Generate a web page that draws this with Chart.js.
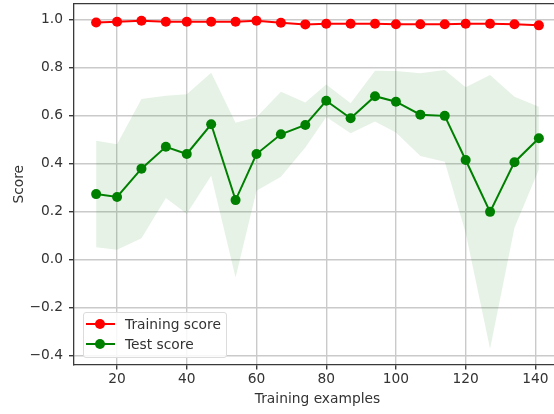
<!DOCTYPE html>
<html>
<head>
<meta charset="utf-8">
<script src="https://cdn.jsdelivr.net/npm/chart.js@4/dist/chart.umd.min.js"></script>
<style>
  html, body { margin: 0; padding: 0; background: #fff; overflow: hidden; width: 554px; height: 414px; }
  #wrap { position: relative; width: 554px; height: 414px; overflow: hidden; }
  #c { position: absolute; left: 0; top: 0; }
  #legend {
    position: absolute; left: 83px; top: 312px; width: 144px; height: 46px;
    box-sizing: border-box; border: 1px solid #dcdcdc; border-radius: 3px;
    background: rgba(255,255,255,0.85);
    font-family: "DejaVu Sans", sans-serif; font-size: 13.8px; color: #333;
  }
  .row { position: absolute; left: 0; height: 16px; width: 100%; }
  .ln { position: absolute; left: 2px; width: 29px; height: 2px; top: 7px; }
  .mk { position: absolute; left: 11px; width: 10px; height: 10px; top: 3px; border-radius: 50%; }
  .tx { position: absolute; left: 41px; top: 0; line-height: 16px; white-space: nowrap; }
</style>
</head>
<body>
<div id="wrap">
  <canvas id="c" width="600" height="414"></canvas>
  <div id="legend"></div>
</div>
<script>
// ---- data ----
const trainSizes = [14, 20, 27, 34, 40, 47, 54, 60, 67, 74, 80, 87, 94, 100, 107, 114, 120, 127, 134, 141];
const trainScore = [0.987, 0.990, 0.994, 0.990, 0.990, 0.990, 0.990, 0.994, 0.986, 0.979, 0.982, 0.982, 0.982, 0.980, 0.980, 0.980, 0.982, 0.982, 0.980, 0.975];
const testScore  = [0.272, 0.260, 0.378, 0.469, 0.439, 0.563, 0.247, 0.439, 0.521, 0.560, 0.661, 0.588, 0.680, 0.657, 0.603, 0.598, 0.414, 0.198, 0.405, 0.505];
const testUpper  = [0.494, 0.480, 0.668, 0.682, 0.688, 0.778, 0.569, 0.592, 0.698, 0.654, 0.729, 0.650, 0.786, 0.785, 0.775, 0.789, 0.717, 0.768, 0.678, 0.636];
const testLower  = [0.050, 0.040, 0.088, 0.256, 0.190, 0.348, -0.075, 0.286, 0.344, 0.466, 0.593, 0.525, 0.574, 0.529, 0.431, 0.407, 0.111, -0.372, 0.132, 0.374];
const xTickValues = [20, 40, 60, 80, 100, 120, 140];
const yTickValues = [-0.4, -0.2, 0.0, 0.2, 0.4, 0.6, 0.8, 1.0];
const yTickLabels = ["\u22120.4", "\u22120.2", "0.0", "0.2", "0.4", "0.6", "0.8", "1.0"];
const seriesNames = ["Training score", "Test score"];
const seriesColors = ["#ff0000", "#008000"];
const xTitle = "Training examples";
const yTitle = "Score";
const xRange = [7.65, 147.35];
const yRange = [-0.438, 1.064];

const pts = (ys) => trainSizes.map((x, i) => ({x: x, y: ys[i]}));

const font = { family: "DejaVu Sans", size: 13.8 };
const gridColor = "#cacaca";
const frameColor = "#3a3a3a";
const textColor = "#333333";

new Chart(document.getElementById("c"), {
  type: "line",
  data: {
    datasets: [
      { data: pts(testUpper), borderWidth: 0, pointRadius: 0, fill: "+1",
        backgroundColor: "rgba(0,128,0,0.1)", borderColor: "rgba(0,0,0,0)", order: 5, tension: 0 },
      { data: pts(testLower), borderWidth: 0, pointRadius: 0, fill: false,
        borderColor: "rgba(0,0,0,0)", order: 6, tension: 0 },
      { label: seriesNames[0], data: pts(trainScore), borderColor: seriesColors[0], backgroundColor: seriesColors[0],
        borderWidth: 2, pointRadius: 5, pointBorderWidth: 0, fill: false, order: 1, tension: 0 },
      { label: seriesNames[1], data: pts(testScore), borderColor: seriesColors[1], backgroundColor: seriesColors[1],
        borderWidth: 2, pointRadius: 5, pointBorderWidth: 0, fill: false, order: 2, tension: 0 }
    ]
  },
  options: {
    responsive: false,
    animation: false,
    devicePixelRatio: 1,
    layout: { autoPadding: false, padding: { left: 0, right: 39, top: 0, bottom: 0 } },
    plugins: { legend: { display: false }, tooltip: { enabled: false } },
    scales: {
      x: {
        type: "linear", position: "bottom", min: xRange[0], max: xRange[1],
        afterBuildTicks: (s) => { s.ticks = xTickValues.map(v => ({value: v})); },
        afterFit: (s) => { s.height = 49.5; s.paddingLeft = 0; s.paddingRight = 0; },
        ticks: { font: font, color: textColor, padding: 2, maxRotation: 0,
                 callback: (v) => String(v) },
        grid: { color: gridColor, lineWidth: 1.4, tickColor: frameColor, tickLength: 5, drawTicks: true },
        border: { display: true, color: frameColor, width: 1.3 },
        title: { display: true, text: xTitle, font: font, color: textColor, padding: { top: 0, bottom: 6.4 } }
      },
      xTop: {
        type: "linear", position: "top", min: xRange[0], max: xRange[1],
        afterFit: (s) => { s.height = 4; s.paddingLeft = 0; s.paddingRight = 0; },
        ticks: { display: false },
        grid: { display: false, drawTicks: false },
        border: { display: true, color: frameColor, width: 1.3 }
      },
      y: {
        type: "linear", position: "left", min: yRange[0], max: yRange[1],
        afterBuildTicks: (s) => { s.ticks = yTickValues.map(v => ({value: v})); },
        afterFit: (s) => { s.width = 74; s.paddingTop = 0; s.paddingBottom = 0; },
        ticks: { font: font, color: textColor, padding: 6,
                 callback: (v) => { const i = yTickValues.findIndex(t => Math.abs(t - v) < 1e-9); return i >= 0 ? yTickLabels[i] : ""; } },
        grid: { color: gridColor, lineWidth: 1.4, tickColor: frameColor, tickLength: 5, drawTicks: true },
        border: { display: true, color: frameColor, width: 1.3 },
        title: { display: true, text: yTitle, font: font, color: textColor, padding: { top: 10.7, bottom: 0 } }
      }
    }
  }
});

// HTML legend built from series names/colours
const lg = document.getElementById("legend");
seriesNames.forEach((name, i) => {
  const row = document.createElement("div");
  row.className = "row";
  row.style.top = (3 + i * 20.3) + "px";
  row.innerHTML = '<div class="ln" style="background:' + seriesColors[i] + '"></div>' +
                  '<div class="mk" style="background:' + seriesColors[i] + '"></div>' +
                  '<div class="tx">' + name + '</div>';
  lg.appendChild(row);
});
</script>
</body>
</html>
